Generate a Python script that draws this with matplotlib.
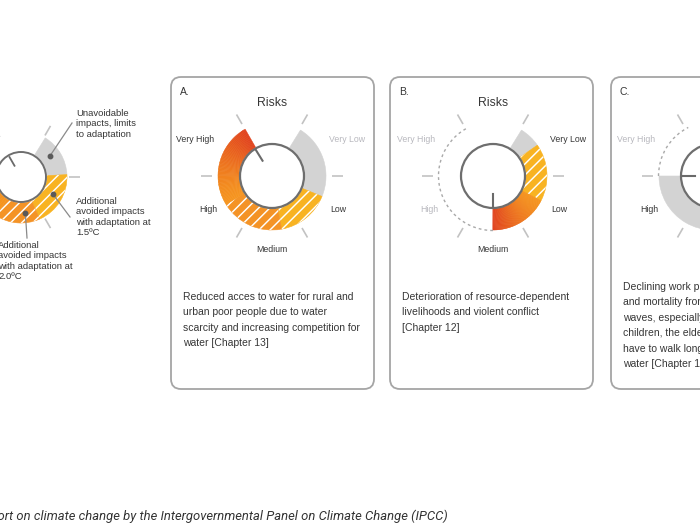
import numpy as np
import matplotlib
matplotlib.use('Agg')
import matplotlib.pyplot as plt
from matplotlib.patches import Wedge, Circle, FancyBboxPatch, Arc
from matplotlib.colors import to_rgb

# ---------------- data ----------------
risk_levels = ['Very Low', 'Low', 'Medium', 'High', 'Very High']
panel_letters = ['A.', 'B.', 'C.']
panel_texts = [
    "Reduced acces to water for rural and\nurban poor people due to water\nscarcity and increasing competition for\nwater [Chapter 13]",
    "Deterioration of resource-dependent\nlivelihoods and violent conflict\n[Chapter 12]",
    "Declining work productivity, morbidity\nand mortality from heat stress and heat\nwaves, especially among women,\nchildren, the elderly, and those who\nhave to walk long distances to fetch\nwater [Chapter 16]",
]
# extents on the risk dial in risk-level units (0 = start of 'Very Low', 5 = end of 'Very High')
unavoidable = [(0.03, 1.37), (0.03, 0.42), (0.03, 4.0)]
avoided_15 = [(1.37, 2.33), (0.42, 1.45), None]
avoided_20 = [(2.33, 3.47), None, None]
residual = [(3.47, 5.0), (1.45, 2.5), None]
not_reached = [None, (2.5, 5.05), (4.0, 5.05)]
needle = [4.97, 2.5, 4.0]
inactive_levels = [['Very Low'], ['High', 'Very High'], ['Very High']]

legend_unavoidable = (0.03, 0.95)
legend_avoided_15 = (0.95, 2.1)
legend_avoided_20 = (2.1, 3.05)
legend_residual = (3.05, 3.8)
legend_not_reached = (3.8, 5.05)
legend_needle = 5.0
legend_labels = [
    "Unavoidable\nimpacts, limits\nto adaptation",
    "Additional\navoided impacts\nwith adaptation at\n1.5ºC",
    "Additional\navoided impacts\nwith adaptation at\n2.0ºC",
]
caption = "Report on climate change by the Intergovernmental Panel on Climate Change (IPCC)"

# ---------------- style ----------------
plt.rcParams['font.family'] = ['Liberation Sans', 'DejaVu Sans']
plt.rcParams['hatch.linewidth'] = 1.05
GRAY = '#d3d3d3'
YELLOW = '#f8b322'
ORANGE = '#f49326'
GRAD0 = '#f5951f'
GRAD1 = '#e1421e'
DARK = '#363636'
LIGHT = '#b8b8be'
TICK = '#c2c2c2'

fig = plt.figure(figsize=(7, 5.25), dpi=100)
ax = fig.add_axes([0, 0, 1, 1])
ax.set_xlim(0, 700)
ax.set_ylim(525, 0)
ax.axis('off')


def ang(v):
    return 60.0 - 60.0 * v


def pt(c, r, v=None, a=None):
    if a is None:
        a = ang(v)
    t = np.radians(a)
    return c[0] + r * np.cos(t), c[1] - r * np.sin(t)


def seg(c, r_in, r_out, v0, v1, **kw):
    w = Wedge(c, r_out, -ang(v0), -ang(v1), width=r_out - r_in, **kw)
    ax.add_patch(w)


def hatched(c, r_in, r_out, span, color):
    seg(c, r_in, r_out, span[0], span[1], facecolor=color, edgecolor=color, lw=0.4)
    seg(c, r_in, r_out, span[0], span[1], facecolor='none', edgecolor='white',
        hatch='///', lw=0)


def gradient(c, r_in, r_out, span, c0=GRAD0, c1=GRAD1, n=60):
    vs = np.linspace(span[0], span[1], n + 1)
    a, b = np.array(to_rgb(c0)), np.array(to_rgb(c1))
    for i in range(n):
        t = ((i + 0.5) / n) ** 1.4
        col = a + (b - a) * t
        seg(c, r_in, r_out, vs[i], vs[i + 1] + 0.004, facecolor=col, edgecolor=col, lw=0.3)


def dashed(c, r_in, r_out, span):
    ax.add_patch(Arc(c, 2 * r_out, 2 * r_out, theta1=-ang(span[0]), theta2=-ang(span[1]),
                     color='#a9a9a9', lw=1.0, ls=(0, (2, 2.2))))
    ax.add_patch(Arc(c, 2 * (r_in - 3), 2 * (r_in - 3), theta1=-ang(span[0]), theta2=-ang(span[1]),
                     color='#a9a9a9', lw=0.8, ls=(0, (1, 2.5))))


def dial(c, t_in, t_out):
    for a in [0, 60, 120, 180, 240, 300]:
        x0, y0 = pt(c, t_in, a=a)
        x1, y1 = pt(c, t_out, a=a)
        ax.plot([x0, x1], [y0, y1], color=TICK, lw=1.2, solid_capstyle='butt')


def label(x, y, s, half_w, **kw):
    # skip labels lying wholly beyond the right edge of the picture
    if x - half_w < 699:
        ax.text(x, y, s, **kw)


# ---------------- panels ----------------
box_x = [171, 390, 611]
box_y, box_w, box_h = 77, 203, 312
centers = [(272, 176), (493, 176), (713, 176)]
label_off = {'Very Low': (75, -36), 'Low': (66, 34), 'Medium': (0, 74),
             'High': (-64, 34), 'Very High': (-77, -36)}
text_top = [292, 292, 282]

for i in range(3):
    x0 = box_x[i]
    ax.add_patch(FancyBboxPatch((x0, box_y), box_w, box_h,
                                boxstyle='round,pad=0,rounding_size=10',
                                facecolor='white', edgecolor='#a5a5a5', lw=1.3))
    c = centers[i]
    r_c, r_in, r_out = 32, 33, 54
    dial(c, 60, 71)
    if unavoidable[i]:
        u = unavoidable[i]
        seg(c, r_in, r_out, u[0], u[1], facecolor=GRAY, edgecolor=GRAY, lw=0.4)
    if avoided_15[i]:
        hatched(c, r_in, r_out, avoided_15[i], YELLOW)
    if avoided_20[i]:
        hatched(c, r_in, r_out, avoided_20[i], ORANGE)
    if residual[i]:
        gradient(c, r_in, r_out, residual[i])
    if not_reached[i]:
        dashed(c, r_in, r_out + 0.5, not_reached[i])
    ax.add_patch(Circle(c, r_c, facecolor='white', edgecolor='#6e6e6e', lw=1.6, zorder=3))
    xa, ya = pt(c, 18, needle[i])
    xb, yb = pt(c, 31, needle[i])
    ax.plot([xa, xb], [ya, yb], color='#6a6a6a', lw=1.5, zorder=4)

    ax.text(x0 + 14, 92, panel_letters[i], fontsize=7.5, color=DARK, ha='center', va='center')
    label(c[0], 103, 'Risks', 14, fontsize=8.8, color=DARK, ha='center', va='center')
    for lev in risk_levels:
        dx, dy = label_off[lev]
        col = LIGHT if lev in inactive_levels[i] else DARK
        label(c[0] + dx, c[1] + dy, lev, 1.6 * len(lev), fontsize=6.3, color=col,
              ha='center', va='center')
    ax.text(x0 + 12, text_top[i], panel_texts[i], fontsize=7.5, color=DARK,
            ha='left', va='top', linespacing=1.68)

# ---------------- legend diagram ----------------
lc = (21, 177)
lr_c, lr_in, lr_out = 25, 26, 46
dial(lc, 48, 59)
seg(lc, lr_in, lr_out, legend_unavoidable[0], legend_unavoidable[1],
    facecolor=GRAY, edgecolor=GRAY, lw=0.4)
hatched(lc, lr_in, lr_out, legend_avoided_15, YELLOW)
hatched(lc, lr_in, lr_out, legend_avoided_20, ORANGE)
gradient(lc, lr_in, lr_out, legend_residual, GRAD0, '#f08a1f', n=10)
dashed(lc, lr_in, lr_out, legend_not_reached)
ax.add_patch(Circle(lc, lr_c, facecolor='white', edgecolor='#6e6e6e', lw=1.4, zorder=3))
xa, ya = pt(lc, 13, legend_needle)
xb, yb = pt(lc, 23, legend_needle)
ax.plot([xa, xb], [ya, yb], color='#6a6a6a', lw=1.3, zorder=4)

legend_spans = [legend_unavoidable, legend_avoided_15, legend_avoided_20]
dot_frac = [0.4, 0.45, 0.3]
leader_end = [(72, 123), (70, 217), (27, 238)]
for span, f, end in zip(legend_spans, dot_frac, leader_end):
    v = span[0] + f * (span[1] - span[0])
    dx_, dy_ = pt(lc, 36, v)
    ax.plot([dx_, end[0]], [dy_, end[1]], color='#8a8a8a', lw=0.9, zorder=5)
    ax.plot([dx_], [dy_], 'o', color='#5a5a5a', ms=3.2, zorder=6)

legend_pos = [(76, 109), (76, 197), (-2, 241)]
for (x, y), s in zip(legend_pos, legend_labels):
    ax.text(x, y, s, fontsize=6.8, color=DARK, ha='left', va='top', linespacing=1.2)

# ---------------- caption ----------------
ax.text(448, 516, caption, fontsize=9.4, color='#333333', ha='right', va='center',
        style='italic', family=['Roboto', 'DejaVu Sans'])

fig.savefig('out.png', dpi=100, facecolor='white')
